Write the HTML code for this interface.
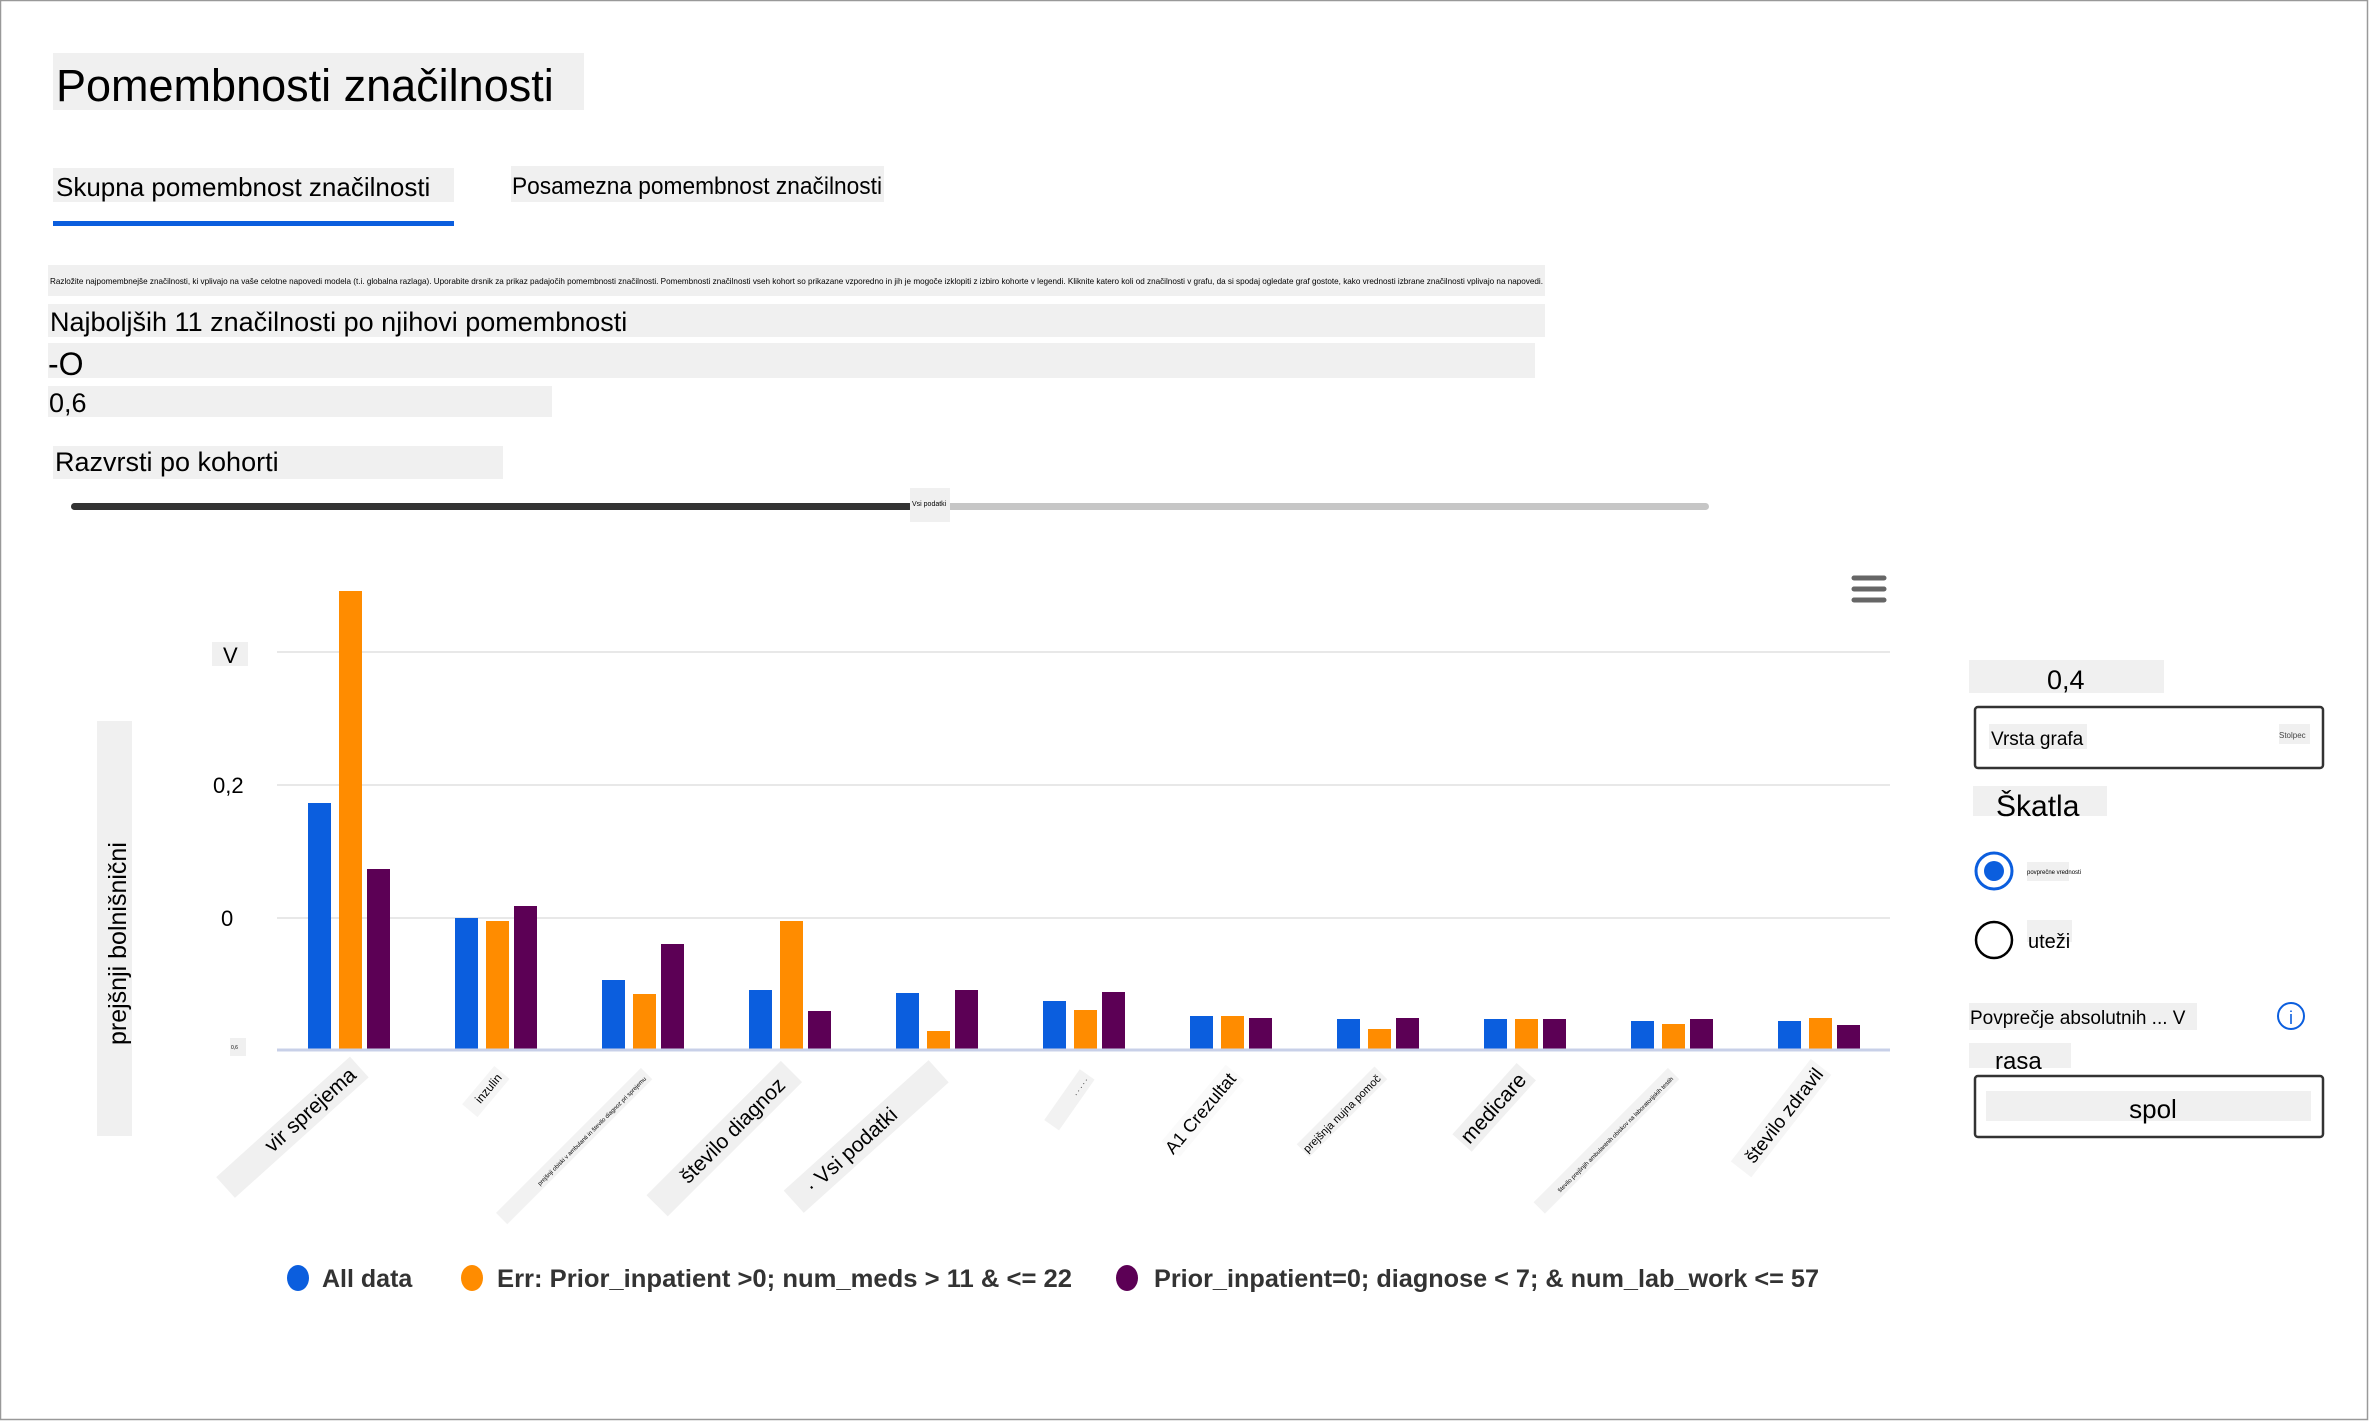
<!DOCTYPE html>
<html><head><meta charset="utf-8"><style>
html,body{margin:0;padding:0;background:#fff;}
body{width:2371px;height:1421px;overflow:hidden;position:relative;font-family:"Liberation Sans",sans-serif;}
</style></head><body>
<svg width="2371" height="1421" viewBox="0 0 2371 1421" xmlns="http://www.w3.org/2000/svg" style="position:absolute;left:0;top:0;font-family:'Liberation Sans',sans-serif">
<rect x="0.5" y="0.5" width="2367" height="1419" fill="#fff" stroke="#999" stroke-width="1.5"/>
<rect x="53" y="53" width="531" height="57" fill="#f0f0f0"/>
<text x="56" y="101" font-size="45" fill="#000">Pomembnosti značilnosti</text>
<rect x="53" y="168" width="401" height="34" fill="#f0f0f0"/>
<text x="56" y="196" font-size="26" fill="#000">Skupna pomembnost značilnosti</text>
<rect x="53" y="221" width="401" height="5" fill="#0b5ede"/>
<rect x="511" y="166" width="373" height="36" fill="#f0f0f0"/>
<text x="512" y="194" font-size="24" fill="#000" textLength="370" lengthAdjust="spacingAndGlyphs">Posamezna pomembnost značilnosti</text>
<rect x="48" y="265" width="1497" height="31" fill="#f0f0f0"/>
<text x="50" y="284" font-size="8.2" fill="#000" textLength="1493" lengthAdjust="spacingAndGlyphs">Razložite najpomembnejše značilnosti, ki vplivajo na vaše celotne napovedi modela (t.i. globalna razlaga). Uporabite drsnik za prikaz padajočih pomembnosti značilnosti. Pomembnosti značilnosti vseh kohort so prikazane vzporedno in jih je mogoče izklopiti z izbiro kohorte v legendi. Kliknite katero koli od značilnosti v grafu, da si spodaj ogledate graf gostote, kako vrednosti izbrane značilnosti vplivajo na napovedi.</text>
<rect x="48" y="304" width="1497" height="33" fill="#f0f0f0"/>
<text x="50" y="331" font-size="27" fill="#000">Najboljših 11 značilnosti po njihovi pomembnosti</text>
<rect x="48" y="343" width="1487" height="35" fill="#f0f0f0"/>
<text x="48" y="375" font-size="32" fill="#000">-O</text>
<rect x="48" y="386" width="504" height="31" fill="#f0f0f0"/>
<text x="49" y="412" font-size="27" fill="#000">0,6</text>
<rect x="53" y="446" width="450" height="33" fill="#f0f0f0"/>
<text x="55" y="471" font-size="27" fill="#000">Razvrsti po kohorti</text>
<rect x="71" y="503" width="1638" height="7" rx="3.5" fill="#c6c6c6"/>
<rect x="71" y="503" width="842" height="7" rx="3.5" fill="#333"/>
<rect x="910" y="488" width="40" height="34" fill="#f0f0f0"/>
<text x="912" y="506" font-size="7" fill="#000">Vsi podatki</text>
<line x1="277" y1="652" x2="1890" y2="652" stroke="#e0e0e0" stroke-width="1.5"/>
<line x1="277" y1="785" x2="1890" y2="785" stroke="#e0e0e0" stroke-width="1.5"/>
<line x1="277" y1="918" x2="1890" y2="918" stroke="#e0e0e0" stroke-width="1.5"/>
<rect x="212" y="642" width="36" height="24" fill="#f0f0f0"/>
<text x="223" y="663" font-size="22" fill="#000">V</text>
<text x="213" y="793" font-size="22" fill="#000">0,2</text>
<text x="221" y="926" font-size="22" fill="#000">0</text>
<rect x="230" y="1038" width="16" height="18" fill="#f0f0f0"/>
<text x="231" y="1049" font-size="5" fill="#000">0,6</text>
<rect x="97" y="721" width="35" height="415" fill="#f0f0f0"/>
<text transform="translate(126,1045) rotate(-90)" font-size="25" fill="#000">prejšnji bolnišnični</text>
<g stroke="#666" stroke-width="5" stroke-linecap="round">
<line x1="1854" y1="578" x2="1884" y2="578"/><line x1="1854" y1="589" x2="1884" y2="589"/><line x1="1854" y1="600" x2="1884" y2="600"/></g>
<g>
<rect x="308" y="803" width="23" height="246" fill="#0b5ede"/>
<rect x="339" y="591" width="23" height="458" fill="#ff8c00"/>
<rect x="367" y="869" width="23" height="180" fill="#5c0055"/>
<rect x="455" y="918" width="23" height="131" fill="#0b5ede"/>
<rect x="486" y="921" width="23" height="128" fill="#ff8c00"/>
<rect x="514" y="906" width="23" height="143" fill="#5c0055"/>
<rect x="602" y="980" width="23" height="69" fill="#0b5ede"/>
<rect x="633" y="994" width="23" height="55" fill="#ff8c00"/>
<rect x="661" y="944" width="23" height="105" fill="#5c0055"/>
<rect x="749" y="990" width="23" height="59" fill="#0b5ede"/>
<rect x="780" y="921" width="23" height="128" fill="#ff8c00"/>
<rect x="808" y="1011" width="23" height="38" fill="#5c0055"/>
<rect x="896" y="993" width="23" height="56" fill="#0b5ede"/>
<rect x="927" y="1031" width="23" height="18" fill="#ff8c00"/>
<rect x="955" y="990" width="23" height="59" fill="#5c0055"/>
<rect x="1043" y="1001" width="23" height="48" fill="#0b5ede"/>
<rect x="1074" y="1010" width="23" height="39" fill="#ff8c00"/>
<rect x="1102" y="992" width="23" height="57" fill="#5c0055"/>
<rect x="1190" y="1016" width="23" height="33" fill="#0b5ede"/>
<rect x="1221" y="1016" width="23" height="33" fill="#ff8c00"/>
<rect x="1249" y="1018" width="23" height="31" fill="#5c0055"/>
<rect x="1337" y="1019" width="23" height="30" fill="#0b5ede"/>
<rect x="1368" y="1029" width="23" height="20" fill="#ff8c00"/>
<rect x="1396" y="1018" width="23" height="31" fill="#5c0055"/>
<rect x="1484" y="1019" width="23" height="30" fill="#0b5ede"/>
<rect x="1515" y="1019" width="23" height="30" fill="#ff8c00"/>
<rect x="1543" y="1019" width="23" height="30" fill="#5c0055"/>
<rect x="1631" y="1021" width="23" height="28" fill="#0b5ede"/>
<rect x="1662" y="1024" width="23" height="25" fill="#ff8c00"/>
<rect x="1690" y="1019" width="23" height="30" fill="#5c0055"/>
<rect x="1778" y="1021" width="23" height="28" fill="#0b5ede"/>
<rect x="1809" y="1018" width="23" height="31" fill="#ff8c00"/>
<rect x="1837" y="1025" width="23" height="24" fill="#5c0055"/>
</g>
<line x1="277" y1="1050" x2="1890" y2="1050" stroke="#c8d0e8" stroke-width="3"/>
<g font-size="21" fill="#000">
<g transform="translate(362,1070) rotate(-42)"><rect x="-180" y="-18" width="180" height="28" fill="#f0f0f0"/><text x="-8" y="2" text-anchor="end">vir sprejema</text></g>
<g transform="translate(505,1075) rotate(-50)"><rect x="-50" y="-14" width="50" height="20" fill="#f5f5f5"/><text x="-4" y="0" text-anchor="end" font-size="12">inzulin</text></g>
<g transform="translate(648,1075) rotate(-45)"><rect x="-205" y="-10" width="205" height="16" fill="#f2f2f2"/><text x="-4" y="2" text-anchor="end" font-size="6">prejšnji obiski v ambulanti in število diagnoz pri sprejemu</text></g>
<g transform="translate(795,1075) rotate(-45)"><rect x="-190" y="-20" width="190" height="30" fill="#f0f0f0"/><text x="-14" y="2" text-anchor="end">število diagnoz</text></g>
<g transform="translate(942,1075) rotate(-42)"><rect x="-195" y="-20" width="195" height="30" fill="#f0f0f0"/><text x="-60" y="2" text-anchor="end">· Vsi podatki</text></g>
<g transform="translate(1088,1075) rotate(-55)"><rect x="-62" y="-10" width="62" height="18" fill="#f2f2f2"/><text x="-4" y="2" text-anchor="end" font-size="8">. . . . .</text></g>
<g transform="translate(1238,1075) rotate(-50)"><rect x="-100" y="-16" width="100" height="24" fill="#fafafa"/><text x="-4" y="2" text-anchor="end" font-size="18">A1 Crezultat</text></g>
<g transform="translate(1383,1075) rotate(-45)"><rect x="-110" y="-12" width="110" height="18" fill="#f2f2f2"/><text x="-4" y="2" text-anchor="end" font-size="11">prejšnja nujna pomoč</text></g>
<g transform="translate(1530,1075) rotate(-48)"><rect x="-96" y="-18" width="96" height="26" fill="#f0f0f0"/><text x="-6" y="2" text-anchor="end">medicare</text></g>
<g transform="translate(1675,1075) rotate(-45)"><rect x="-190" y="-10" width="190" height="16" fill="#f2f2f2"/><text x="-4" y="2" text-anchor="end" font-size="6">število prejšnjih ambulantnih obiskov na laboratorijskih testih</text></g>
<g transform="translate(1825,1070) rotate(-52)"><rect x="-130" y="-18" width="130" height="26" fill="#f5f5f5"/><text x="-4" y="2" text-anchor="end" font-size="19">število zdravil</text></g>
</g>
<g font-size="25" font-weight="bold" fill="#333">
<ellipse cx="298" cy="1278" rx="11" ry="13" fill="#0b5ede"/><text x="322" y="1287">All data</text>
<ellipse cx="472" cy="1278" rx="11" ry="13" fill="#ff8c00"/><text x="497" y="1287" textLength="575" lengthAdjust="spacingAndGlyphs">Err: Prior_inpatient &gt;0; num_meds &gt; 11 &amp; &lt;= 22</text>
<ellipse cx="1127" cy="1278" rx="11" ry="13" fill="#5c0055"/><text x="1154" y="1287" textLength="665" lengthAdjust="spacingAndGlyphs">Prior_inpatient=0; diagnose &lt; 7; &amp; num_lab_work &lt;= 57</text>
</g>
<rect x="1969" y="660" width="195" height="33" fill="#f0f0f0"/>
<text x="2047" y="689" font-size="27" fill="#000">0,4</text>
<rect x="1975" y="707" width="348" height="61" rx="3" fill="#fff" stroke="#333" stroke-width="2.5"/>
<rect x="1989" y="724" width="98" height="25" fill="#f0f0f0"/>
<text x="1991" y="745" font-size="19" fill="#000">Vrsta grafa</text>
<rect x="2279" y="724" width="31" height="20" fill="#f0f0f0"/>
<text x="2279" y="738" font-size="8" fill="#444">Stolpec</text>
<rect x="1973" y="786" width="134" height="30" fill="#f0f0f0"/>
<text x="1996" y="816" font-size="30" fill="#000">Škatla</text>
<circle cx="1994" cy="871" r="18" fill="#fff" stroke="#0b5ede" stroke-width="3"/>
<circle cx="1994" cy="871" r="10" fill="#0b5ede"/>
<rect x="2027" y="862" width="42" height="19" fill="#f0f0f0"/>
<text x="2027" y="874" font-size="6" fill="#000">povprečne vrednosti</text>
<circle cx="1994" cy="940" r="18" fill="#fff" stroke="#000" stroke-width="2.5"/>
<rect x="2027" y="920" width="45" height="22" fill="#f0f0f0"/>
<text x="2028" y="948" font-size="20" fill="#000">uteži</text>
<rect x="1969" y="1003" width="228" height="27" fill="#f0f0f0"/>
<text x="1970" y="1024" font-size="19" fill="#000">Povprečje absolutnih ... V</text>
<circle cx="2291" cy="1016" r="13" fill="#fff" stroke="#0b5ede" stroke-width="2"/>
<text x="2291" y="1024" font-size="18" fill="#0b5ede" text-anchor="middle">i</text>
<rect x="1969" y="1043" width="102" height="25" fill="#f0f0f0"/>
<text x="1995" y="1069" font-size="24" fill="#000">rasa</text>
<rect x="1975" y="1076" width="348" height="61" rx="3" fill="#fff" stroke="#333" stroke-width="2.5"/>
<rect x="1986" y="1091" width="325" height="30" fill="#f0f0f0"/>
<text x="2153" y="1118" font-size="26" fill="#000" text-anchor="middle">spol</text>
</svg>
</body></html>
